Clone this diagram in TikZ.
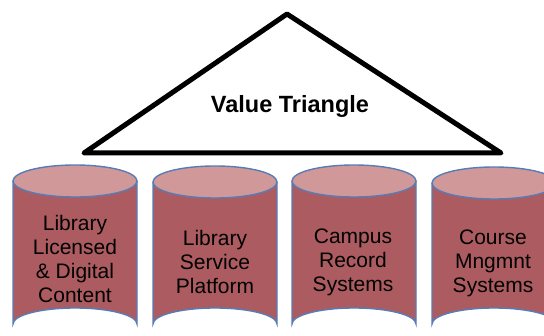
\documentclass[tikz,border=0pt]{standalone}
\usepackage{fontspec}
\setmainfont{Liberation Sans}
\definecolor{bodyred}{RGB}{172,92,96}
\definecolor{toppink}{RGB}{208,152,152}
\definecolor{rimblue}{RGB}{88,124,182}
\tikzset{
  rim/.style={draw=rimblue, line width=1.4pt},
  drumlabel/.style={align=center, font=\fontsize{21}{24}\selectfont, text=black},
  tri/.style={draw=black, line width=5pt, line join=round, fill=white}
}
% barrel: centre x, top-ellipse centre y, name
\newcommand{\barrel}[3]{%
  \fill[bodyred] (#1-62,#2) -- (#1-62,324) arc[start angle=180,end angle=360,x radius=62,y radius=16] -- (#1+62,#2) -- cycle;
  \draw[rim] (#1-62,#2) -- (#1-62,324) arc[start angle=180,end angle=360,x radius=62,y radius=16] -- (#1+62,#2);
  \draw[rim, fill=toppink] (#1,#2) ellipse[x radius=62, y radius=16];
  \coordinate (#3) at (#1,#2);
}
\begin{document}
\begin{tikzpicture}[x=1pt,y=-1pt]
  \useasboundingbox (0,0) rectangle (544,336);
  \clip (0,0) rectangle (544,336);

  % value triangle
  \coordinate (apex) at (287,14);
  \coordinate (bl) at (84,153);
  \coordinate (br) at (501,153);
  \draw[tri] (apex) -- (br) -- (bl) -- cycle;
  \node[font=\bfseries\fontsize{23.5}{27}\selectfont] (vt) at (290,106) {Value Triangle};

  % four data stores
  \barrel{75}{181}{c1}
  \barrel{215}{182}{c2}
  \barrel{354}{181}{c3}
  \barrel{494}{183}{c4}

  \node[drumlabel] (t1) at (75,259) {Library\\Licensed\\\& Digital\\Content};
  \node[drumlabel] (t2) at (215,262) {Library\\Service\\Platform};
  \node[drumlabel] (t3) at (353,262) {Campus\\Record\\Systems};
  \node[drumlabel] (t4) at (493,263) {Course\\Mngmnt\\Systems};
\end{tikzpicture}
\end{document}
